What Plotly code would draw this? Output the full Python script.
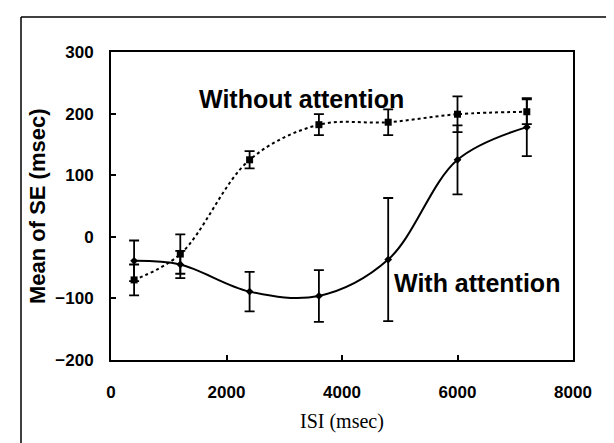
import plotly.graph_objects as go

# ---- data ----
isi = [400, 1200, 2400, 3600, 4800, 6000, 7200]
without_mean = [-70, -28, 125, 182, 186, 199, 203]
without_err = [25, 32, 14, 17, 21, 29, 20]
with_mean = [-39, -45, -89, -96, -37, 125, 178]
with_err = [33, 22, 32, 42, 100, 56, 47]

x_ticks = [0, 2000, 4000, 6000, 8000]
y_ticks = [-200, -100, 0, 100, 200, 300]

tick_font = dict(family="Liberation Sans, Arial, sans-serif", size=17, color="black", weight="bold")

fig = go.Figure()

fig.add_trace(go.Scatter(
    x=isi, y=without_mean, mode="lines+markers", name="Without attention",
    line=dict(color="black", width=2, dash="dot", shape="spline"),
    marker=dict(symbol="square", size=7, color="black"),
    error_y=dict(type="data", array=without_err, visible=True, color="black", thickness=1.8, width=5),
))
fig.add_trace(go.Scatter(
    x=isi, y=with_mean, mode="lines+markers", name="With attention",
    line=dict(color="black", width=2, shape="spline"),
    marker=dict(symbol="diamond", size=6, color="black"),
    error_y=dict(type="data", array=with_err, visible=True, color="black", thickness=1.8, width=5),
))

fig.update_layout(
    width=614, height=443,
    margin=dict(l=103, r=49, t=44, b=91, autoexpand=False),
    paper_bgcolor="white", plot_bgcolor="white",
    showlegend=False,
    xaxis=dict(range=[0, 8000], tickvals=x_ticks, ticks="inside", ticklen=5, tickwidth=1.5,
               tickcolor="black", showgrid=False, zeroline=False, showline=True, linecolor="black",
               linewidth=2, mirror=True, tickfont=tick_font, ticklabelstandoff=16),
    yaxis=dict(range=[-200, 300], tickvals=y_ticks, ticks="inside", ticklen=5, tickwidth=1.5,
               tickcolor="black", showgrid=False, zeroline=False, showline=True, linecolor="black",
               linewidth=2, mirror=True, tickfont=tick_font, ticklabelstandoff=12),
    annotations=[
        dict(x=3300, y=224, xref="x", yref="y", text="Without attention", showarrow=False,
             font=dict(family="Liberation Sans, Arial, sans-serif", size=25, color="black", weight="bold")),
        dict(x=6330, y=-75, xref="x", yref="y", text="With attention", showarrow=False,
             font=dict(family="Liberation Sans, Arial, sans-serif", size=25, color="black", weight="bold")),
        dict(x=-0.16, y=0.5, xref="paper", yref="paper", text="Mean of SE (msec)", showarrow=False,
             textangle=-90, xanchor="center", yanchor="middle",
             font=dict(family="Liberation Sans, Arial, sans-serif", size=22, color="black", weight="bold")),
        dict(x=0.5, y=-0.2, xref="paper", yref="paper", text="ISI (msec)", showarrow=False,
             xanchor="center", yanchor="middle",
             font=dict(family="Liberation Serif, Times New Roman, serif", size=20, color="black")),
    ],
    shapes=[
        dict(type="line", xref="paper", yref="paper", x0=(13 - 103) / 462, x1=1.2,
             y0=1 + (44 - 9) / 308, y1=1 + (44 - 9) / 308, line=dict(color="black", width=1.5)),
        dict(type="line", xref="paper", yref="paper", x0=(13 - 103) / 462, x1=(13 - 103) / 462,
             y0=1 + (44 - 9) / 308, y1=-0.4, line=dict(color="black", width=1.5)),
    ],
)

fig.write_html("out.html")
